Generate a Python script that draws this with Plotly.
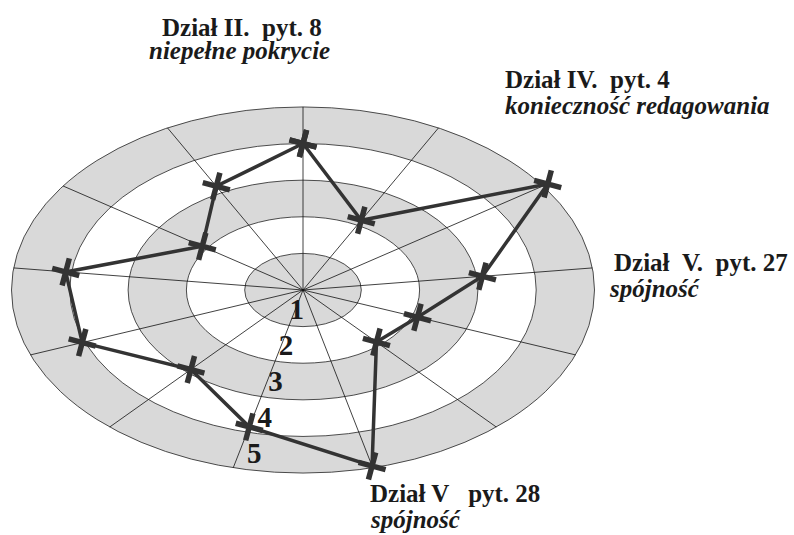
import numpy as np
import plotly.graph_objects as go

# radar values, 13 axes, clockwise from the top
values = [4.0, 3.2, 2.1, 4.1, 4.05, 2.9, 3.85, 4.95, 1.9, 2.1, 3.1, 5.1, 2.15]
levels = [1, 2, 3, 4, 5]
level_labels = ["1", "2", "3", "4", "5"]

n_axes = len(values)
angles = np.pi / 2 + 2 * np.pi * np.arange(n_axes) / n_axes
r_max = levels[-1]

W, H = 794, 535
px_per_unit = 58.3
tilt = 0.628
cx, cy = 303, 290

fig = go.Figure()

# rings, outer first, grey / white alternately
ring_shapes = []
for i, lv in enumerate(sorted(levels, reverse=True)):
    ring_shapes.append(dict(
        type="circle", xref="x", yref="y",
        x0=-lv, x1=lv, y0=-lv, y1=lv,
        fillcolor="#d9d9d9" if i % 2 == 0 else "white",
        line=dict(color="#222222", width=0.8),
        layer="below",
    ))

# spokes
sx, sy = [], []
for a in angles:
    sx += [0, r_max * np.cos(a), None]
    sy += [0, r_max * np.sin(a), None]
fig.add_trace(go.Scatter(x=sx, y=sy, mode="lines",
                         line=dict(color="#111111", width=0.8),
                         hoverinfo="skip", showlegend=False))

# level numbers along the lower-left axis
lab_angle = np.deg2rad(259.5)
lab_r = np.array(levels) - 0.4
fig.add_trace(go.Scatter(
    x=lab_r * np.cos(lab_angle), y=lab_r * np.sin(lab_angle),
    mode="text", text=[f"<b>{t}</b>" for t in level_labels],
    textfont=dict(family="Liberation Serif", size=29, color="#1a1a1a"),
    hoverinfo="skip", showlegend=False,
))

# data polygon
v = np.array(values + values[:1])
a = np.append(angles, angles[0])
fig.add_trace(go.Scatter(
    x=v * np.cos(a), y=v * np.sin(a),
    mode="lines+markers",
    line=dict(color="#333333", width=3.5),
    marker=dict(symbol="cross-thin", size=20, angle=15,
                line=dict(color="#333333", width=5.5)),
    showlegend=False,
))

# axis captions (left edge, baseline in px)
captions = [
    ("<b>Dział II.\u00a0\u00a0pyt. 8</b>", 160, 35),
    ("<b><i>niepełne pokrycie</i></b>", 147, 58),
    ("<b>Dział IV.\u00a0\u00a0pyt. 4</b>", 503, 87),
    ("<b><i>konieczność redagowania</i></b>", 503, 113),
    ("<b>Dział\u00a0\u00a0V.\u00a0\u00a0pyt. 27</b>", 612, 270),
    ("<b><i>spójność</i></b>", 607, 296),
    ("<b>Dział V\u00a0\u00a0\u00a0pyt. 28</b>", 368, 501),
    ("<b><i>spójność</i></b>", 368, 527),
]
for text, x_px, base_px in captions:
    fig.add_annotation(
        text=text, xref="paper", yref="paper",
        x=x_px / W, y=1 - (base_px - 8) / H,
        xanchor="left", yanchor="middle", showarrow=False,
        font=dict(family="Liberation Serif", size=25, color="#1a1a1a"),
    )

x0 = -cx / px_per_unit
x1 = (W - cx) / px_per_unit
y1 = cy / (px_per_unit * tilt)
y0 = -(H - cy) / (px_per_unit * tilt)

fig.update_layout(
    width=W, height=H,
    margin=dict(l=0, r=0, t=0, b=0),
    paper_bgcolor="white", plot_bgcolor="white",
    shapes=ring_shapes,
    xaxis=dict(range=[x0, x1], visible=False, fixedrange=True),
    yaxis=dict(range=[y0, y1], visible=False, fixedrange=True),
)

fig.write_html("out.html", config={"displayModeBar": False},
               post_script="document.body.style.margin='0';"
                           "document.body.style.overflow='hidden';")
